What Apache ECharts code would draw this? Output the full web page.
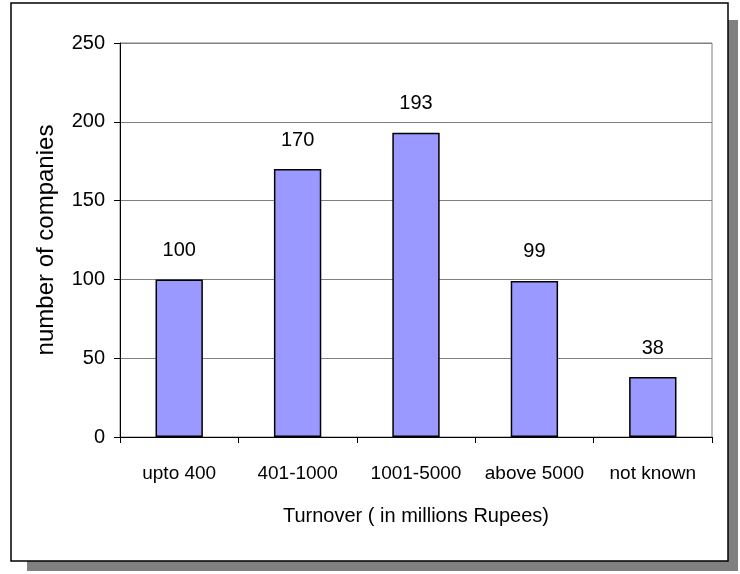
<!DOCTYPE html>
<html>
<head>
<meta charset="utf-8">
<script src="https://cdn.jsdelivr.net/npm/echarts@6/dist/echarts.min.js"></script>
<style>
  html, body { margin: 0; padding: 0; background: #fff; }
  #chart { width: 740px; height: 574px; }
</style>
</head>
<body>
<div id="chart"></div>
<script>
// ── Data ───────────────────────────────────────────────
const categories = ['upto 400', '401-1000', '1001-5000', 'above 5000', 'not known'];
const companies  = [100, 170, 193, 99, 38];
const yTicks     = [0, 50, 100, 150, 200, 250];

const FONT = "'Liberation Sans', Arial, sans-serif";

const chart = echarts.init(document.getElementById('chart'));

chart.setOption({
  animation: false,
  backgroundColor: '#fff',

  // frame with drop shadow
  graphic: [
    { type: 'rect', z: -10, shape: { x: 27, y: 20, width: 711, height: 551 },
      style: { fill: '#808080' } },
    { type: 'rect', z: -9, shape: { x: 11, y: 3, width: 717, height: 558 },
      style: { fill: '#fff', stroke: '#000', lineWidth: 1.5 } },
  ],

  grid: { left: 120, right: 28, top: 43, bottom: 137, show: true,
          borderColor: '#808080', borderWidth: 1 },

  xAxis: {
    type: 'category',
    data: categories,
    name: 'Turnover ( in millions Rupees)',
    nameLocation: 'middle',
    nameGap: 69,
    nameTextStyle: { fontFamily: FONT, fontSize: 20, color: '#000' },
    axisLine: { lineStyle: { color: '#000', width: 1 } },
    axisTick: { show: true, interval: 0, length: 6, lineStyle: { color: '#000' } },
    axisLabel: { interval: 0, fontFamily: FONT, fontSize: 19, color: '#000', margin: 27 },
  },

  yAxis: {
    type: 'value',
    min: yTicks[0],
    max: yTicks[yTicks.length - 1],
    interval: 50,
    name: 'number of companies',
    nameLocation: 'middle',
    nameGap: 62,
    nameTextStyle: { fontFamily: FONT, fontSize: 24, color: '#000' },
    axisLine: { show: true, lineStyle: { color: '#000', width: 1 } },
    axisTick: { show: true, length: 6, lineStyle: { color: '#000' } },
    axisLabel: { fontFamily: FONT, fontSize: 20, color: '#000', margin: 15 },
    splitLine: { lineStyle: { color: '#808080', width: 1 } },
  },

  series: [{
    type: 'bar',
    data: companies,
    barWidth: '40%',
    itemStyle: { color: '#9999FF', borderColor: '#000', borderWidth: 1.5 },
    label: {
      show: true,
      position: 'top',
      distance: 19,
      fontFamily: FONT,
      fontSize: 20,
      color: '#000',
    },
  }],
});
</script>
</body>
</html>
